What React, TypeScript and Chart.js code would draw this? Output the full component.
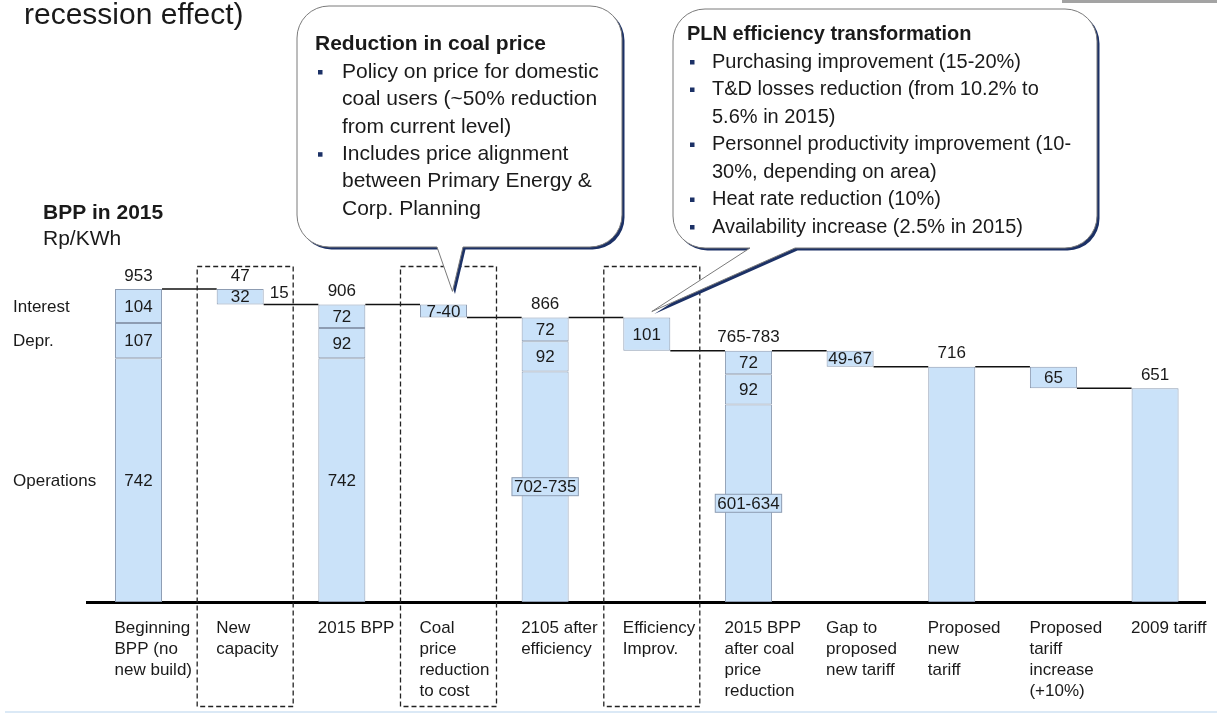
import React, { useEffect, useRef } from "react";
import { Chart, registerables } from "chart.js";

Chart.register(...registerables);

const FONT = "'Liberation Sans', Arial, Helvetica, sans-serif";
const TEXT = "#1a1a1a";
const BAR_FILL = "#cae2f9";
const BAR_EDGE = "#8d9cb2";
const NAVY = "#1c3166";

// ---- data ----
const categories: string[][] = [
  ["Beginning", "BPP (no", "new build)"],
  ["New", "capacity"],
  ["2015 BPP"],
  ["Coal", "price", "reduction", "to cost"],
  ["2105 after", "efficiency"],
  ["Efficiency", "Improv."],
  ["2015 BPP", "after coal", "price", "reduction"],
  ["Gap to", "proposed", "new tariff"],
  ["Proposed", "new", "tariff"],
  ["Proposed", "tariff", "increase", "(+10%)"],
  ["2009 tariff"],
];

const operations = [742, null, 742, null, 702, null, 601, null, 716, null, 651];
const depreciation = [107, null, 92, null, 92, null, 92, null, null, null, null];
const interest = [104, null, 72, null, 72, null, 72, null, null, null, null];
const stepChange = [null, -47, null, -40, null, -101, null, -49, null, -65, null];

const operationsLabels = ["742", "", "742", "", "702-735", "", "601-634", "", "", "", ""];
const depreciationLabels = ["107", "", "92", "", "92", "", "92", "", "", "", ""];
const interestLabels = ["104", "", "72", "", "72", "", "72", "", "", "", ""];
const stepLabels = ["", "32", "", "7-40", "", "101", "", "49-67", "", "65", ""];
const stepSideLabels = ["", "15", "", "", "", "", "", "", "", "", ""];
const totalLabels = ["953", "47", "906", "", "866", "", "765-783", "", "716", "", "651"];
const boxedCategories = [1, 3, 5];
const rowLabels = ["Interest", "Depr.", "Operations"];

const unitTitle = "BPP in 2015";
const unitLabel = "Rp/KWh";
const topText = "recession effect)";

const coalTitle = "Reduction in coal price";
const coalBullets = [
  ["Policy on price for domestic", "coal users (~50% reduction", "from current level)"],
  ["Includes price alignment", "between Primary Energy &", "Corp. Planning"],
];
const plnTitle = "PLN efficiency transformation";
const plnBullets = [
  ["Purchasing improvement (15-20%)"],
  ["T&D losses reduction (from 10.2% to", "5.6% in 2015)"],
  ["Personnel productivity improvement (10-", "30%, depending on area)"],
  ["Heat rate reduction (10%)"],
  ["Availability increase (2.5% in 2015)"],
];

// ---- derived ranges ----
type R = [number, number] | null;
const opsRange: R[] = operations.map((v) => (v == null ? null : [0, v]));
const deprRange: R[] = depreciation.map((v, i) =>
  v == null ? null : [operations[i] as number, (operations[i] as number) + v]
);
const intRange: R[] = interest.map((v, i) => {
  if (v == null) return null;
  const b = (operations[i] as number) + (depreciation[i] as number);
  return [b, b + v];
});
const stepRange: R[] = [];
const exitLevels: number[] = [];
{
  let level = 0;
  stepChange.forEach((s, i) => {
    if (s == null) {
      level = (operations[i] ?? 0) + (depreciation[i] ?? 0) + (interest[i] ?? 0);
      stepRange.push(null);
    } else {
      const next = level + s;
      stepRange.push([Math.min(level, next), Math.max(level, next)]);
      level = next;
    }
    exitLevels.push(level);
  });
}
const topValues = categories.map((_, i) => {
  const rs = [opsRange[i], deprRange[i], intRange[i], stepRange[i]].filter(Boolean) as [number, number][];
  return Math.max(...rs.map((r) => r[1]));
});

function drawCallout(
  ctx: CanvasRenderingContext2D,
  x: number, y: number, w: number, h: number, r: number,
  t1: number, t2: number, tipX: number, tipY: number
) {
  const path = (dx: number, dy: number) => {
    ctx.beginPath();
    ctx.moveTo(x + r + dx, y + dy);
    ctx.lineTo(x + w - r + dx, y + dy);
    ctx.arcTo(x + w + dx, y + dy, x + w + dx, y + r + dy, r);
    ctx.lineTo(x + w + dx, y + h - r + dy);
    ctx.arcTo(x + w + dx, y + h + dy, x + w - r + dx, y + h + dy, r);
    ctx.lineTo(t2 + dx, y + h + dy);
    ctx.lineTo(tipX + dx, tipY + dy);
    ctx.lineTo(t1 + dx, y + h + dy);
    ctx.lineTo(x + r + dx, y + h + dy);
    ctx.arcTo(x + dx, y + h + dy, x + dx, y + h - r + dy, r);
    ctx.lineTo(x + dx, y + r + dy);
    ctx.arcTo(x + dx, y + dy, x + r + dx, y + dy, r);
    ctx.closePath();
  };
  ctx.save();
  path(2.5, 2.5);
  ctx.fillStyle = NAVY;
  ctx.fill();
  path(0, 0);
  ctx.fillStyle = "#ffffff";
  ctx.fill();
  ctx.strokeStyle = "#7a7a7a";
  ctx.lineWidth = 1;
  ctx.stroke();
  ctx.restore();
}

function drawCalloutText(
  ctx: CanvasRenderingContext2D, title: string, bullets: string[][],
  titleX: number, titleY: number, bulletX: number, textX: number,
  firstY: number, lineGap: number, size: number
) {
  ctx.save();
  ctx.fillStyle = TEXT;
  ctx.textBaseline = "middle";
  ctx.textAlign = "left";
  ctx.font = `bold ${size}px ${FONT}`;
  ctx.fillText(title, titleX, titleY);
  ctx.font = `${size}px ${FONT}`;
  let yy = firstY;
  bullets.forEach((lines) => {
    ctx.fillStyle = NAVY;
    ctx.fillRect(bulletX - 2, yy - 2, 4.5, 4.5);
    ctx.fillStyle = TEXT;
    lines.forEach((ln) => {
      ctx.fillText(ln, textX, yy);
      yy += lineGap;
    });
  });
  ctx.restore();
}

const annotationPlugin = {
  id: "waterfallAnnotations",
  afterDatasetsDraw(chart: any) {
    const ctx: CanvasRenderingContext2D = chart.ctx;
    const xs = chart.scales.x;
    const ys = chart.scales.y;
    const el = chart.getDatasetMeta(0).data[0];
    const half = el.width / 2;
    ctx.save();
    // connectors
    ctx.strokeStyle = "#111";
    ctx.lineWidth = 1.5;
    for (let i = 0; i < categories.length - 1; i++) {
      const py = ys.getPixelForValue(exitLevels[i]);
      ctx.beginPath();
      ctx.moveTo(xs.getPixelForTick(i) + half, py);
      ctx.lineTo(xs.getPixelForTick(i + 1) - half, py);
      ctx.stroke();
    }
    ctx.font = `17px ${FONT}`;
    ctx.textBaseline = "middle";
    ctx.textAlign = "center";
    const segLabel = (ranges: R[], labels: string[], boxed: boolean) => {
      ranges.forEach((r, i) => {
        if (!r || !labels[i]) return;
        const cx = xs.getPixelForTick(i);
        const cy = ys.getPixelForValue((r[0] + r[1]) / 2);
        if (boxed && labels[i].includes("-")) {
          const w = ctx.measureText(labels[i]).width + 4;
          ctx.fillStyle = BAR_FILL;
          ctx.fillRect(cx - w / 2, cy - 9, w, 18);
          ctx.strokeStyle = BAR_EDGE;
          ctx.lineWidth = 1;
          ctx.strokeRect(cx - w / 2, cy - 9, w, 18);
        }
        ctx.fillStyle = TEXT;
        ctx.fillText(labels[i], cx, cy + 1);
      });
    };
    segLabel(opsRange, operationsLabels, true);
    segLabel(deprRange, depreciationLabels, false);
    segLabel(intRange, interestLabels, false);
    segLabel(stepRange, stepLabels, false);
    // side labels
    ctx.textAlign = "left";
    stepRange.forEach((r, i) => {
      if (!r || !stepSideLabels[i]) return;
      ctx.fillStyle = TEXT;
      ctx.fillText(stepSideLabels[i], xs.getPixelForTick(i) + half + 6, ys.getPixelForValue((r[0] + r[1]) / 2) - 3);
    });
    // totals above
    ctx.textAlign = "center";
    totalLabels.forEach((t, i) => {
      if (!t) return;
      ctx.fillStyle = TEXT;
      ctx.fillText(t, xs.getPixelForTick(i), ys.getPixelForValue(topValues[i]) - 13);
    });
    ctx.restore();
  },
  afterDraw(chart: any) {
    const ctx: CanvasRenderingContext2D = chart.ctx;
    const xs = chart.scales.x;
    const ys = chart.scales.y;
    ctx.save();
    // dashed boxes
    ctx.setLineDash([5, 3]);
    ctx.strokeStyle = "#222";
    ctx.lineWidth = 1.3;
    boxedCategories.forEach((i) => {
      const cx = xs.getPixelForTick(i);
      ctx.strokeRect(cx - 43, 266.5, 96, 440);
    });
    ctx.setLineDash([]);

    // row labels
    ctx.fillStyle = TEXT;
    ctx.font = `17px ${FONT}`;
    ctx.textBaseline = "middle";
    ctx.textAlign = "left";
    const rowRanges = [intRange[0], deprRange[0], opsRange[0]] as [number, number][];
    rowLabels.forEach((t, k) => {
      ctx.fillText(t, 13, ys.getPixelForValue((rowRanges[k][0] + rowRanges[k][1]) / 2) + 1);
    });

    // unit title
    ctx.font = `bold 21px ${FONT}`;
    ctx.fillText(unitTitle, 43, 213);
    ctx.font = `21px ${FONT}`;
    ctx.fillText(unitLabel, 43, 239);

    // top-left cut title
    ctx.font = `30px ${FONT}`;
    ctx.textBaseline = "alphabetic";
    ctx.fillText(topText, 24, 24);

    // decorations
    ctx.fillStyle = "#a3a3a3";
    ctx.fillRect(1062, 0, 155, 3);
    ctx.fillStyle = "#dbe9f6";
    ctx.fillRect(5, 711, 1212, 2);

    // callouts
    const tip1x = xs.getPixelForTick(3) + 9;
    const tip1y = ys.getPixelForValue(906) - 13;
    drawCallout(ctx, 297, 6, 325, 241, 32, 437, 463, tip1x, tip1y);
    drawCalloutText(ctx, coalTitle, coalBullets, 315, 44, 320, 342, 72, 27.4, 21);

    const tip2x = xs.getPixelForTick(5) + 5;
    const tip2y = ys.getPixelForValue(866) - 6;
    drawCallout(ctx, 673, 9, 424, 239, 32, 750, 795, tip2x, tip2y);
    drawCalloutText(ctx, plnTitle, plnBullets, 687, 34, 692, 712, 62, 27.5, 20);
    ctx.restore();
  },
};

export default function App() {
  const ref = useRef<HTMLCanvasElement>(null);
  useEffect(() => {
    const barStyle = {
      backgroundColor: BAR_FILL,
      borderColor: BAR_EDGE,
      borderWidth: 1,
      borderSkipped: false,
      grouped: false,
      barPercentage: 0.4624,
      categoryPercentage: 1,
    };
    const chart = new Chart(ref.current as HTMLCanvasElement, {
      type: "bar",
      data: {
        labels: categories,
        datasets: [
          { label: "Operations", data: opsRange as any, ...barStyle },
          { label: "Depr.", data: deprRange as any, ...barStyle },
          { label: "Interest", data: intRange as any, ...barStyle },
          { label: "Change", data: stepRange as any, ...barStyle },
        ],
      },
      options: {
        responsive: false,
        animation: false,
        layout: { padding: { left: 87.7, right: 11.1, top: 109.25, bottom: 0 } },
        plugins: { legend: { display: false }, tooltip: { enabled: false } },
        scales: {
          x: {
            z: 1,
            grid: { display: false, drawTicks: false },
            border: { display: true, color: "#000", width: 3 },
            ticks: {
              autoSkip: false,
              maxRotation: 0,
              minRotation: 0,
              align: "start",
              labelOffset: -24,
              padding: 15.5,
              color: TEXT,
              font: { family: FONT, size: 17, lineHeight: 21 / 17 },
            },
            afterFit: (s: any) => {
              s.height = 111;
              s.paddingLeft = 0;
              s.paddingRight = 0;
            },
          },
          y: { display: false, min: 0, max: 1500 },
        },
      } as any,
      plugins: [annotationPlugin],
    });
    return () => chart.destroy();
  }, []);
  return (
    <div style={{ position: "fixed", left: 0, top: 0, width: 1217, height: 713, background: "#fff" }}>
      <canvas ref={ref} width={1217} height={713} style={{ display: "block", width: 1217, height: 713 }} />
    </div>
  );
}
